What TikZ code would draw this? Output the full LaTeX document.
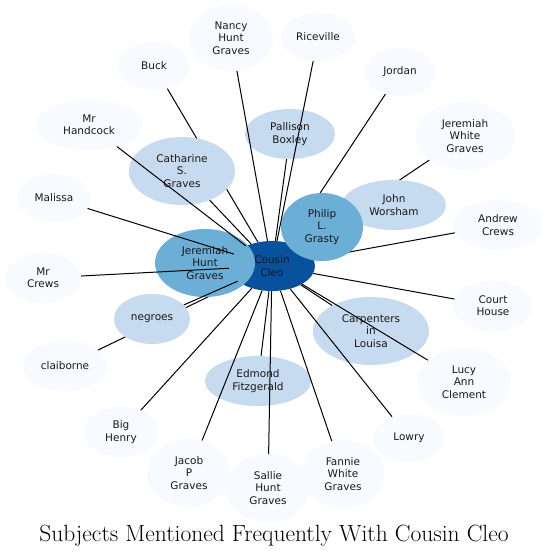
\documentclass[tikz,border=0pt]{standalone}
\usepackage{fontspec}
\usetikzlibrary{shapes.geometric}
\newfontfamily\lblfont{DejaVu Sans}
\definecolor{paleblue}{HTML}{F7FBFF}
\definecolor{lightblue}{HTML}{C6DBEF}
\definecolor{midblue}{HTML}{6BAED6}
\definecolor{darkblue}{HTML}{08519C}
\pgfdeclarelayer{bg}
\pgfsetlayers{bg,main}
\tikzset{
  nd/.style={ellipse, inner sep=0pt, align=center, text=black!90,
    font=\lblfont\fontsize{10.5}{12.3}\selectfont},
  palenode/.style={nd, fill=paleblue},
  lightnode/.style={nd, fill=lightblue},
  midnode/.style={nd, fill=midblue},
  darknode/.style={nd, fill=darkblue},
  sz/.style 2 args={minimum width=#1pt, minimum height=#2pt},
  edge/.style={draw=black, line width=1pt}
}
\begin{document}
\begin{tikzpicture}[x=1pt,y=-1pt]
\useasboundingbox (0,0) rectangle (548,558);
% central node first (others overlap it)
\node[darknode, sz={86}{50}] (cleo) at (272,266) {Cousin\\Cleo};
% outer pale nodes
\node[palenode, sz={84}{66}] (nancy) at (231,38) {Nancy\\Hunt\\Graves};
\node[palenode, sz={74}{48}] (riceville) at (318,37) {Riceville};
\node[palenode, sz={72}{48}] (buck) at (154,66) {Buck};
\node[palenode, sz={72}{48}] (jordan) at (400,72) {Jordan};
\node[palenode, sz={108}{50}] (handcock) at (89,125) {Mr\\Handcock};
\node[palenode, sz={100}{68}] (jwg) at (465,136) {Jeremiah\\White\\Graves};
\node[palenode, sz={74}{48}] (malissa) at (54,198) {Malissa};
\node[palenode, sz={90}{50}] (andrew) at (498,225) {Andrew\\Crews};
\node[palenode, sz={76}{50}] (mrcrews) at (43,278) {Mr\\Crews};
\node[palenode, sz={80}{50}] (court) at (493,306) {Court\\House};
\node[palenode, sz={84}{50}] (claiborne) at (65,366) {claiborne};
\node[palenode, sz={94}{68}] (lucy) at (464,382) {Lucy\\Ann\\Clement};
\node[palenode, sz={76}{50}] (bighenry) at (121,432) {Big\\Henry};
\node[palenode, sz={72}{48}] (lowry) at (409,438) {Lowry};
\node[palenode, sz={84}{68}] (jacob) at (189,473) {Jacob\\P\\Graves};
\node[palenode, sz={84}{68}] (sallie) at (268,488) {Sallie\\Hunt\\Graves};
\node[palenode, sz={84}{68}] (fannie) at (343,474) {Fannie\\White\\Graves};
% light nodes
\node[lightnode, sz={90}{50}] (pallison) at (290,134) {Pallison\\Boxley};
\node[lightnode, sz={106}{68}] (catharine) at (182,171) {Catharine\\S.\\Graves};
\node[lightnode, sz={104}{50}] (worsham) at (394,205) {John\\Worsham};
\node[lightnode, sz={76}{50}] (negroes) at (152,319) {negroes};
\node[lightnode, sz={116}{68}] (carpenters) at (371,331) {Carpenters\\in\\Louisa};
\node[lightnode, sz={106}{50}] (edmond) at (258,381) {Edmond\\Fitzgerald};
% mid nodes
\node[midnode, sz={82}{68}] (philip) at (322,227) {Philip\\L.\\Grasty};
\node[midnode, sz={100}{68}] (jhg) at (205,263) {Jeremiah\\Hunt\\Graves};
% edges hidden beneath nodes
\begin{pgfonlayer}{bg}
\draw[edge] (buck) -- (cleo);
\draw[edge] (jwg) -- (cleo);
\draw[edge] (jordan) -- (cleo);
\draw[edge] (andrew) -- (cleo);
\draw[edge] (claiborne) -- (cleo);
\end{pgfonlayer}
% edges drawn over nodes
\draw[edge] (nancy) -- (cleo);
\draw[edge] (riceville) -- (cleo);
\draw[edge] (pallison) -- (cleo);
\draw[edge] (handcock) -- (cleo);
\draw[edge] (catharine) -- (cleo);
\draw[edge] (malissa) -- (cleo);
\draw[edge] (mrcrews) -- (cleo);
\draw[edge] (court) -- (cleo);
\draw[edge] (carpenters) -- (cleo);
\draw[edge] (lucy) -- (cleo);
\draw[edge] (lowry) -- (cleo);
\draw[edge] (fannie) -- (cleo);
\draw[edge] (sallie) -- (cleo);
\draw[edge] (edmond) -- (cleo);
\draw[edge] (jacob) -- (cleo);
\draw[edge] (bighenry) -- (cleo);
\draw[edge] (negroes) -- (cleo);
% title
\node[font=\fontsize{23.5}{28}\selectfont, inner sep=0pt] (title) at (274,536) {Subjects Mentioned Frequently With Cousin Cleo};
\end{tikzpicture}
\end{document}
